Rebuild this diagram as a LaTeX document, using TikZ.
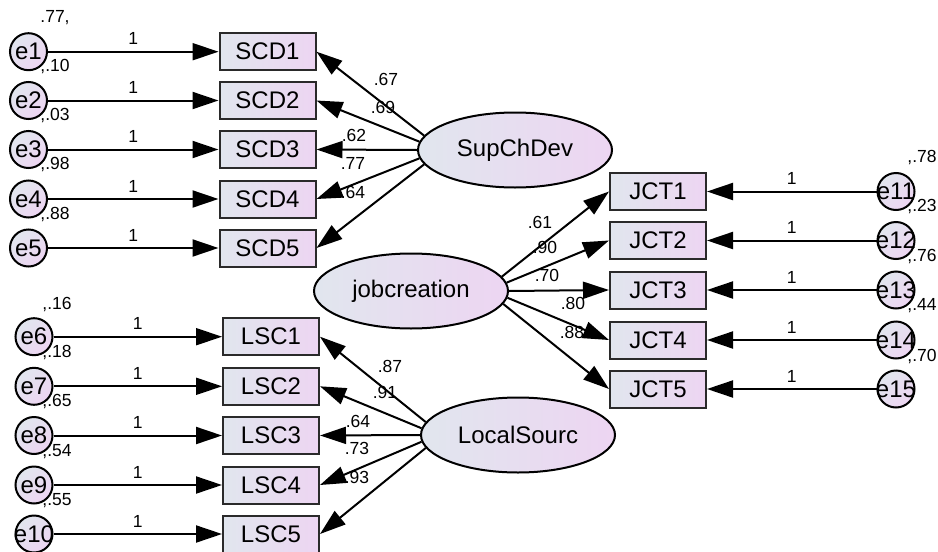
\documentclass[tikz,border=0pt]{standalone}
\usepackage{fontspec}
\setmainfont{Liberation Sans}
\usetikzlibrary{arrows.meta,shapes.geometric}
\definecolor{cL}{HTML}{E1E6EE}
\definecolor{cR}{HTML}{EDD5F2}
\definecolor{bd}{HTML}{2A2A2A}
\tikzset{
  obs/.style={draw=bd, line width=2pt, rectangle, minimum width=96pt, minimum height=37pt, inner sep=0pt,
    left color=cL, right color=cR, font=\fontsize{24}{27}\selectfont},
  lat/.style={draw=black, line width=2pt, ellipse, minimum width=194pt, minimum height=75pt, inner sep=0pt,
    left color=cL, right color=cR, font=\fontsize{24}{27}\selectfont},
  errc/.style={draw=black, line width=2pt, circle, minimum size=37pt, inner sep=0pt,
    left color=cL, right color=cR, shading angle=45},
  etext/.style={font=\fontsize{24}{27}\selectfont, inner sep=0pt},
  arr/.style={line width=2pt, -{Triangle[length=26pt,width=17pt]}},
  lab/.style={font=\fontsize{17.5}{20}\selectfont, inner sep=0pt},
}
\begin{document}
\begin{tikzpicture}[x=1pt,y=-1pt]
\useasboundingbox (0,0) rectangle (938,552);
% left upper errors and SCD boxes
\foreach \i/\y in {1/51.7,2/100.5,3/149.5,4/199,5/248}{
  \node[errc, label={[etext]center:e\i}] (e\i) at (28.5,\y) {};
  \node[obs] (SCD\i) at (267.5,\y) {SCD\i};
  \draw[arr] (e\i) -- node[lab, above=6pt]{1} (SCD\i);
}
\node[lab] at (55,18) {.77,};
\node[lab] at (55,67) {,.10};
\node[lab] at (55,116) {,.03};
\node[lab] at (55,165) {,.98};
\node[lab] at (55,215) {,.88};
% SupChDev
\node[lat] (sup) at (515,150) {SupChDev};
\draw[arr] (sup.171) -- (SCD1.east);
\draw[arr] (sup.175) -- (SCD2.east);
\draw[arr] (sup.180) -- (SCD3.east);
\draw[arr] (sup.185) -- (SCD4.east);
\draw[arr] (sup.189) -- (SCD5.east);
\node[lab] at (386,79) {.67};
\node[lab] at (383,107) {.69};
\node[lab] at (354,135) {.62};
\node[lab] at (353,163) {.77};
\node[lab] at (353,192) {.64};
% lower left errors and LSC boxes
\foreach \i/\j/\y in {6/1/336.7,7/2/386.3,8/3/435.5,9/4/485,10/5/534}{
  \node[errc, label={[etext]center:e\i}] (e\i) at (34,\y) {};
  \node[obs] (LSC\j) at (271,\y) {LSC\j};
  \draw[arr] (e\i) -- node[lab, above=6pt]{1} (LSC\j);
}
\node[lab] at (57,305) {,.16};
\node[lab] at (57,353) {,.18};
\node[lab] at (57,402) {,.65};
\node[lab] at (57,452) {,.54};
\node[lab] at (57,501) {,.55};
% LocalSourc
\node[lat] (loc) at (518,435) {LocalSourc};
\draw[arr] (loc.172) -- (LSC1.east);
\draw[arr] (loc.176) -- (LSC2.east);
\draw[arr] (loc.180) -- (LSC3.east);
\draw[arr] (loc.184) -- (LSC4.east);
\draw[arr] (loc.188) -- (LSC5.east);
\node[lab] at (390,366) {.87};
\node[lab] at (385,392) {.91};
\node[lab] at (358,421) {.64};
\node[lab] at (357,448) {.73};
\node[lab] at (357,477) {.93};
% jobcreation and JCT
\node[lat] (jc) at (411,291) {jobcreation};
\foreach \i/\y/\k in {1/191.5/11,2/240.5/12,3/290/13,4/340/14,5/389/15}{
  \node[obs] (JCT\i) at (658,\y) {JCT\i};
  \node[errc, label={[etext]center:e\k}] (e\k) at (896,\y) {};
  \draw[arr] (e\k) -- node[lab, above=6pt]{1} (JCT\i);
}
\node[lab] at (922,158) {,.78};
\node[lab] at (922,207) {,.23};
\node[lab] at (922,257) {,.76};
\node[lab] at (922,306) {,.44};
\node[lab] at (922,357) {,.70};
\draw[arr] (jc.9) -- (JCT1.west);
\draw[arr] (jc.5) -- (JCT2.west);
\draw[arr] (jc.0) -- (JCT3.west);
\draw[arr] (jc.-4) -- (JCT4.west);
\draw[arr] (jc.-8) -- (JCT5.west);
\node[lab] at (540,222) {.61};
\node[lab] at (545,247) {.90};
\node[lab] at (547,275) {.70};
\node[lab] at (573,303) {.80};
\node[lab] at (572,332) {.88};
\end{tikzpicture}
\end{document}
